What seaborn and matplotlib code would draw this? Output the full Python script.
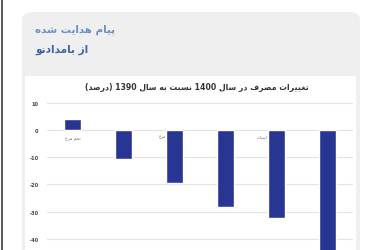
import matplotlib
matplotlib.use("Agg")
import matplotlib.pyplot as plt
from matplotlib.patches import FancyBboxPatch, Rectangle
import seaborn as sns
import pandas as pd

# ---- data ----
categories = ["تخم مرغ", "برنج", "مرغ", "گوشت قرمز", "لبنیات", "میوه"]
values = [4.0, -10.7, -19.5, -28.3, -32.4, -48.0]
yticks = [10, 0, -10, -20, -30, -40]
chart_title = "تغییرات مصرف در سال 1400 نسبت به سال 1390 (درصد)"
header_1 = "پیام هدایت شده"
header_2 = "از بامدادنو"

# ---- minimal Persian shaping (presentation forms) + RTL ordering ----
FORMS = {
    "ا": ("\uFE8D", "\uFE8E", None, None),
    "ب": ("\uFE8F", "\uFE90", "\uFE91", "\uFE92"),
    "پ": ("\uFB56", "\uFB57", "\uFB58", "\uFB59"),
    "ت": ("\uFE95", "\uFE96", "\uFE97", "\uFE98"),
    "خ": ("\uFEA5", "\uFEA6", "\uFEA7", "\uFEA8"),
    "د": ("\uFEA9", "\uFEAA", None, None),
    "ر": ("\uFEAD", "\uFEAE", None, None),
    "ز": ("\uFEAF", "\uFEB0", None, None),
    "س": ("\uFEB1", "\uFEB2", "\uFEB3", "\uFEB4"),
    "ش": ("\uFEB5", "\uFEB6", "\uFEB7", "\uFEB8"),
    "ص": ("\uFEB9", "\uFEBA", "\uFEBB", "\uFEBC"),
    "غ": ("\uFECD", "\uFECE", "\uFECF", "\uFED0"),
    "ف": ("\uFED1", "\uFED2", "\uFED3", "\uFED4"),
    "ق": ("\uFED5", "\uFED6", "\uFED7", "\uFED8"),
    "ل": ("\uFEDD", "\uFEDE", "\uFEDF", "\uFEE0"),
    "م": ("\uFEE1", "\uFEE2", "\uFEE3", "\uFEE4"),
    "ن": ("\uFEE5", "\uFEE6", "\uFEE7", "\uFEE8"),
    "ه": ("\uFEE9", "\uFEEA", "\uFEEB", "\uFEEC"),
    "و": ("\uFEED", "\uFEEE", None, None),
    "ی": ("\uFBFC", "\uFBFD", "\uFBFE", "\uFBFF"),
    "گ": ("\uFB92", "\uFB93", "\uFB94", "\uFB95"),
    "ک": ("\uFB8E", "\uFB8F", "\uFB90", "\uFB91"),
}


def shape(word):
    out = []
    n = len(word)
    for i, ch in enumerate(word):
        if ch not in FORMS:
            out.append(ch)
            continue
        iso, fin, ini, med = FORMS[ch]
        prev = word[i - 1] if i > 0 else None
        nxt = word[i + 1] if i < n - 1 else None
        jp = prev in FORMS and FORMS[prev][2] is not None
        jn = ini is not None and nxt in FORMS
        if jp and jn:
            out.append(med)
        elif jp:
            out.append(fin)
        elif jn:
            out.append(ini)
        else:
            out.append(iso)
    return out


def rtl(text):
    mirror = {"(": ")", ")": "("}
    toks = []
    for t in reversed(text.split(" ")):
        if t.isdigit():
            toks.append(t)
        else:
            s = shape(t)[::-1]
            toks.append("".join(mirror.get(c, c) for c in s))
    return " ".join(toks)


# ---- figure ----
sns.set_theme(style="white")
plt.rcParams["font.family"] = ["DejaVu Sans"]
W, H = 376, 251
fig = plt.figure(figsize=(W / 100, H / 100), dpi=100)
fig.patch.set_facecolor("white")


def fx(x):
    return x / W


def fy(y):
    return 1 - y / H


# left border line
fig.patches.append(Rectangle((fx(0.5), 0), fx(2.5), 1, transform=fig.transFigure,
                             facecolor="#5a5a5a", edgecolor="none", zorder=-10))
# message bubble
fig.patches.append(FancyBboxPatch((fx(22), fy(262)), fx(338), fy(13) - fy(262),
                                  boxstyle="round,pad=0,rounding_size=0.03",
                                  transform=fig.transFigure,
                                  facecolor="#efefef", edgecolor="none", zorder=-10))
# chart image area
fig.patches.append(Rectangle((fx(25), 0), fx(331), fy(77), transform=fig.transFigure,
                             facecolor="white", edgecolor="none", zorder=-9))

fig.text(fx(35), fy(30), rtl(header_1), fontsize=7.4, color="#6a8fc4",
         fontweight="bold", ha="left", va="center")
fig.text(fx(35), fy(50), rtl(header_2), fontsize=7.6, color="#3d64a6",
         fontweight="bold", ha="left", va="center")

ax = fig.add_axes([fx(47), 0, fx(306), fy(97)])
ax.set_facecolor("none")
df = pd.DataFrame({"cat": categories, "val": values})
sns.barplot(data=df, x="cat", y="val", color="#283593", saturation=1,
            width=0.33, ax=ax, zorder=3)
ax.set_ylim(-44.1, 12.5)
ax.set_xlim(-0.5, len(categories) - 0.5)
ax.set_yticks(yticks)
ax.set_yticklabels([str(t) for t in yticks], fontsize=3.6, color="#444444",
                   fontweight="bold")
ax.tick_params(axis="y", length=0, pad=6)
ax.set_xticks([])
ax.set_xlabel("")
ax.set_ylabel("")
ax.grid(axis="y", color="#e3e3e3", linewidth=0.8, zorder=0)
for s in ax.spines.values():
    s.set_visible(False)

for i, (c, v) in enumerate(zip(categories, values)):
    if i % 2:
        continue
    if v >= 0:
        ax.text(i, -2.2, rtl(c), fontsize=3.2, color="#666666",
                ha="center", va="top")
    else:
        ax.text(i - 0.17, -1.5, rtl(c), fontsize=3.2, color="#666666",
                ha="right", va="top")

fig.text(fx(197), fy(88), rtl(chart_title), fontsize=5.6, color="#333333",
         fontweight="bold", ha="center", va="center")

fig.savefig("out.png", dpi=100)
